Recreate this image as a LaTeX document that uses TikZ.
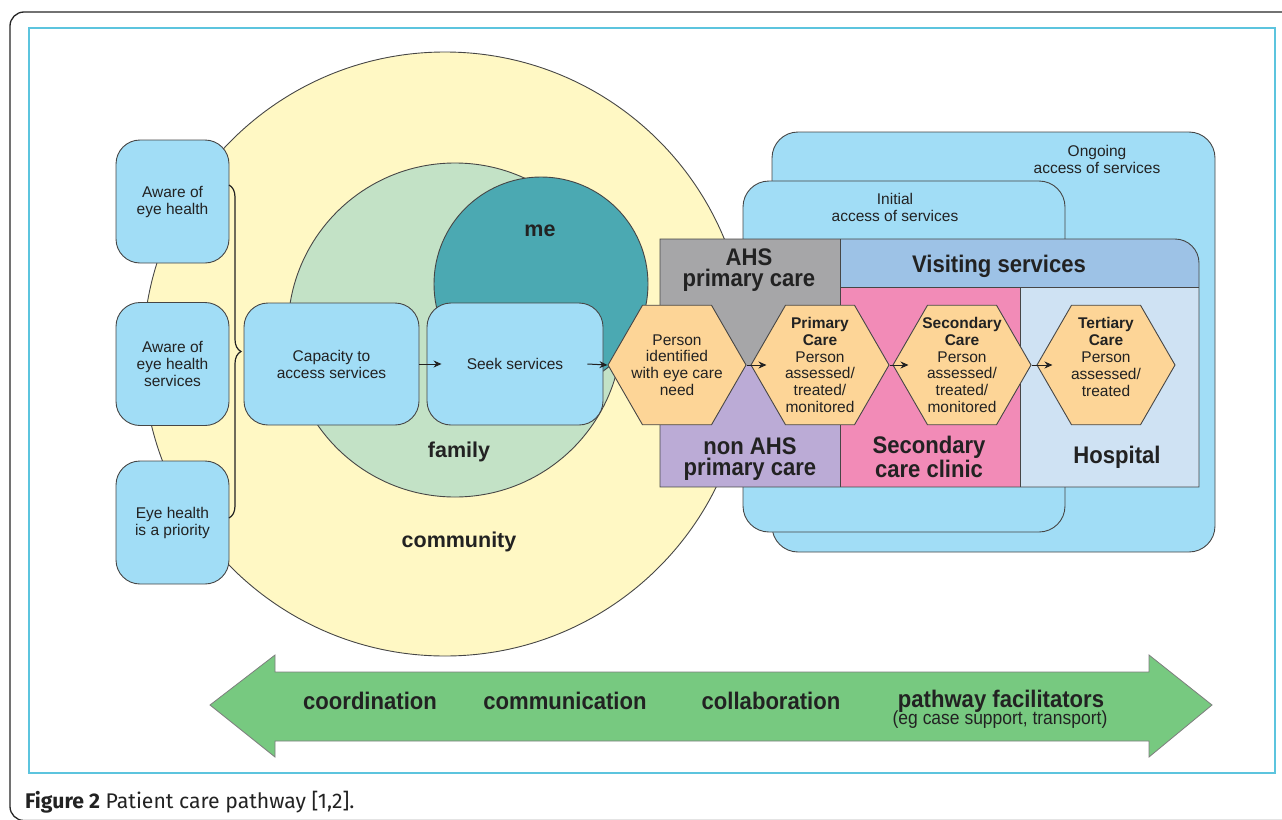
\documentclass[tikz,border=0pt]{standalone}
\usepackage{fontspec}
\setmainfont{Liberation Sans}
\newfontfamily\condfont[FakeStretch=0.92]{Liberation Sans}
\newfontfamily\capfont{Fira Sans}
\usetikzlibrary{shapes.geometric,arrows.meta,decorations.pathreplacing}
\definecolor{boxblue}{RGB}{161,221,246}
\definecolor{commyellow}{RGB}{255,248,196}
\definecolor{famgreen}{RGB}{195,226,198}
\definecolor{meteal}{RGB}{75,169,178}
\definecolor{ahsgray}{RGB}{166,166,168}
\definecolor{nonpurple}{RGB}{187,171,214}
\definecolor{secpink}{RGB}{242,139,183}
\definecolor{hdrblue}{RGB}{157,194,230}
\definecolor{hospblue}{RGB}{207,226,243}
\definecolor{hexor}{RGB}{253,213,151}
\definecolor{arrgreen}{RGB}{119,201,128}
\definecolor{linegray}{RGB}{70,70,70}
\definecolor{textdark}{RGB}{34,34,34}
\definecolor{frcyan}{RGB}{92,196,222}
\begin{document}
\begin{tikzpicture}[x=1pt,y=-1pt,
  stroke/.style={draw=linegray, line width=0.9pt},
  small/.style={font=\fontsize{15.5}{17}\selectfont, text=textdark, align=center},
  ltbox/.style={stroke, fill=boxblue, rounded corners=24pt, inner sep=0pt, small},
  disc/.style={circle, stroke, inner sep=0pt},
  panel/.style={stroke, fill=boxblue, rounded corners=26pt, inner sep=0pt},
  hexa/.style={regular polygon, regular polygon sides=6, minimum size=138pt, inner sep=0pt, stroke, fill=hexor},
  hextext/.style={font=\fontsize{15.5}{16.8}\selectfont, text=textdark, align=center},
  biglab/.style={font=\condfont\bfseries\fontsize{24}{21.5}\selectfont, text=textdark, align=center},
  circlab/.style={font=\bfseries\fontsize{21.5}{24}\selectfont, text=textdark},
  arr/.style={-{Stealth[length=8pt,width=7pt]}, line width=1pt, draw=textdark}
]
\useasboundingbox (0,0) rectangle (1282,819);
% frames
\draw[line width=1.3pt, black!85, rounded corners=14pt] (10,12) rectangle (1300,820.5);
\draw[frcyan, line width=1.6pt] (29,28) rectangle (1275,773);

% circles
\node[disc, fill=commyellow, minimum size=604pt] (comm) at (445,354) {};
\node[disc, fill=famgreen, minimum size=334pt] (fam) at (455,330) {};
\node[disc, fill=meteal, minimum size=214pt] (me) at (541,284) {};
\node[circlab] (commlab) at (459,542) {community};
\node[circlab] (famlab) at (459,452) {family};
\node[circlab] (melab) at (540,231) {me};

% left boxes
\node[ltbox, minimum width=113pt, minimum height=123pt] (b1) at (172.5,201.5) {Aware of\\eye health};
\node[ltbox, minimum width=113pt, minimum height=123pt] (b2) at (172.5,364) {Aware of\\eye health\\services};
\node[ltbox, minimum width=113pt, minimum height=123pt] (b3) at (172.5,522.5) {Eye health\\is a priority};
\draw[line width=1.2pt, textdark, decorate, decoration={brace, amplitude=12pt}] (229,185) -- (229,518);

\node[ltbox, minimum width=175pt, minimum height=122pt] (cap) at (331.5,364) {Capacity to\\access services};
\node[ltbox, minimum width=176pt, minimum height=122pt] (seek) at (515,364) {Seek services};

% right panels
\node[panel, minimum width=443pt, minimum height=420pt] (ongoing) at (993.5,342) {};
\node[small] (ongoinglab) at (1097,159) {Ongoing\\access of services};
\node[panel, minimum width=322pt, minimum height=351pt] (initial) at (904,356.5) {};
\node[small] (initiallab) at (895,207) {Initial\\access of services};

\fill[ahsgray] (660,239) rectangle (840,365);
\fill[nonpurple] (660,365) rectangle (840,487);
\fill[hdrblue] (840,287) -- (840,239) -- (1175,239) .. controls (1188.25,239) and (1199,249.75) .. (1199,263) -- (1199,287) -- cycle;
\fill[secpink] (840,287) rectangle (1020,487);
\fill[hospblue] (1020,287) rectangle (1199,487);
\draw[stroke] (840,239) -- (840,487);
\draw[stroke] (840,287) -- (1199,287);
\draw[stroke] (1020,287) -- (1020,487);
\draw[stroke] (660,487) -- (660,239) -- (1175,239) .. controls (1188.25,239) and (1199,249.75) .. (1199,263) -- (1199,487) -- cycle;

\node[biglab] (ahs) at (749,270) {AHS\\primary care};
\node[biglab] (nonahs) at (750,459) {non AHS\\primary care};
\node[biglab] (vis) at (999,266) {Visiting services};
\node[biglab] (secclin) at (929,457) {Secondary\\care clinic};
\node[biglab] (hosp) at (1117,457) {Hospital};

% hexagons
\node[hexa] (h1) at (677,365) {};
\node[hexa] (h2) at (820,365) {};
\node[hexa] (h3) at (962,365) {};
\node[hexa] (h4) at (1106,365) {};
\node[hextext] (t1) at (h1) {Person\\identified\\with eye care\\need};
\node[hextext] (t2) at (h2) {\textbf{Primary}\\\textbf{Care}\\Person\\assessed/\\treated/\\monitored};
\node[hextext] (t3) at (h3) {\textbf{Secondary}\\\textbf{Care}\\Person\\assessed/\\treated/\\monitored};
\node[hextext] (t4) at ([yshift=8pt]h4.center) {\textbf{Tertiary}\\\textbf{Care}\\Person\\assessed/\\treated};

% arrows
\draw[arr] (cap.east) -- ([xshift=15pt]seek.west);
\draw[arr] ([xshift=-16pt]seek.east) -- (h1.west);
\draw[arr] (h1.east) -- ([xshift=16pt]h2.west);
\draw[arr] (h2.east) -- ([xshift=16pt]h3.west);
\draw[arr] (h3.east) -- ([xshift=16pt]h4.west);

% green double arrow
\draw[fill=arrgreen, draw=linegray!70, line width=0.8pt] (210,705) -- (275,655) -- (275,672) -- (1149,672) -- (1149,655) -- (1212,705) -- (1149,757) -- (1149,741) -- (275,741) -- (275,757) -- cycle;
\node[biglab] (coord) at (370,701) {coordination};
\node[biglab] (commun) at (565,701) {communication};
\node[biglab] (collab) at (771,701) {collaboration};
\node[biglab] (pathf) at (1001,701) {pathway facilitators};
\node[font=\condfont\fontsize{19}{20}\selectfont, text=textdark] (egcase) at (1000,720) {(eg case support, transport)};

% caption
\node[anchor=base west, inner sep=0pt, font=\capfont\fontsize{21.2}{24}\selectfont, text=textdark] (caption) at (25,808) {\textbf{Figure 2} Patient care pathway [1,2].};
\end{tikzpicture}
\end{document}
